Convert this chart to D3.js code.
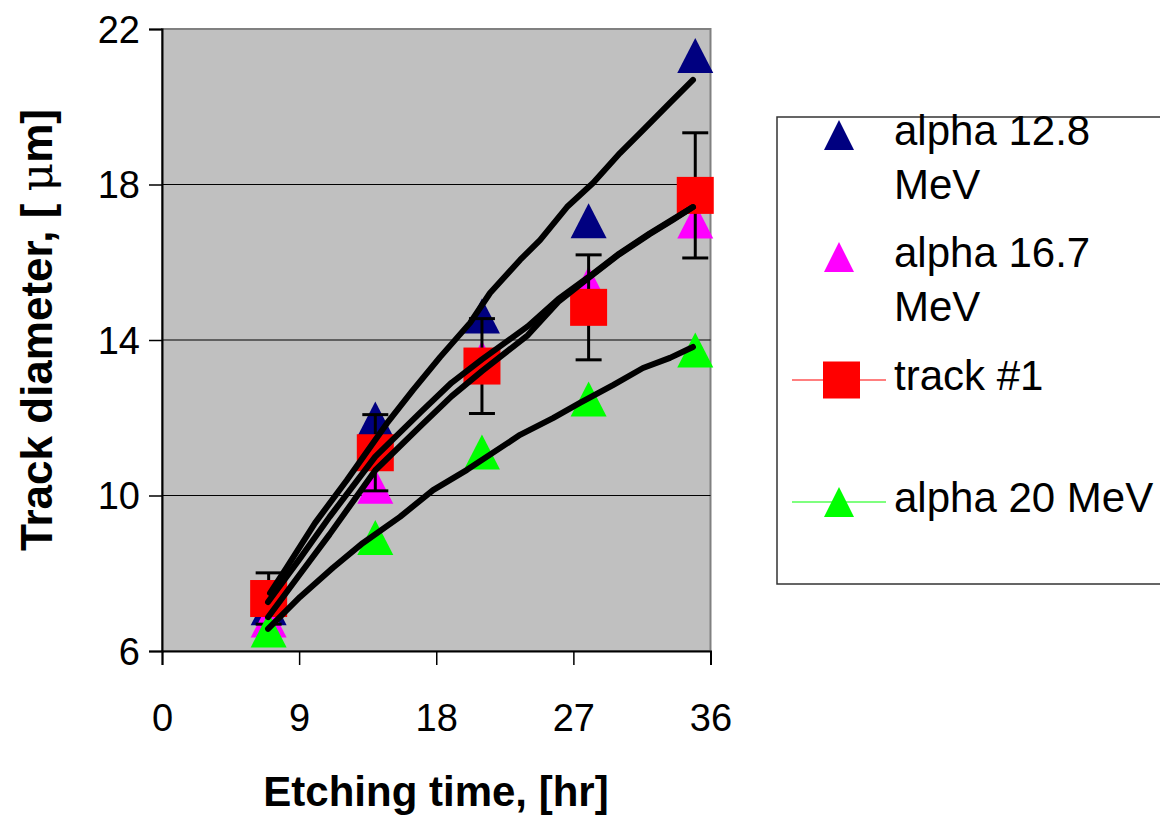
<!DOCTYPE html>
<html>
<head>
<meta charset="utf-8">
<script src="https://cdn.jsdelivr.net/npm/d3@7"></script>
<style>
  body { margin: 0; background: #fff; }
  svg { display: block; font-family: Arial, "Liberation Sans", sans-serif; }
</style>
</head>
<body>
<div id="wrapper"></div>
<script>
// etching time (hr) and measured track diameters (um)
const tHours = [7, 14, 21, 28, 35];
const alpha128 = [7.11, 11.97, 14.62, 17.07, 21.32];
const alpha167 = [6.80, 10.24, 13.54, 15.45, 17.06];
const track1 = [7.35, 11.10, 13.33, 14.84, 17.72];
const track1Err = [0.66, 0.98, 1.22, 1.35, 1.61];
const alpha20 = [6.54, 8.92, 11.12, 12.48, 13.74];

// hand drawn fit curves as [t, d]
const fitA = [[7.09, 7.49], [8.2, 8.16], [10.04, 9.29], [12.14, 10.4], [14.77, 11.86], [16.47, 12.71], [18.25, 13.56],
  [20.22, 14.44], [21.53, 15.21], [23.5, 16.06], [24.81, 16.57], [26.58, 17.42], [28.29, 18.04], [30.06, 18.81],
  [31.57, 19.4], [33.34, 20.1], [34.85, 20.69]];
const fitB = [[6.96, 7.26], [9, 8.35], [11, 9.45], [14, 11.0], [17, 12.15], [19, 12.9], [21, 13.5], [24, 14.35],
  [26, 15.05], [28, 15.62], [30, 16.22], [32, 16.74], [33.5, 17.1], [34.85, 17.42]];
const fitC = [[6.96, 6.87], [9, 7.95], [11, 9.0], [14, 10.65], [17, 11.8], [19, 12.55], [21, 13.2], [24, 14.12],
  [26, 14.98], [28, 15.6], [30, 16.2], [32, 16.72], [33.5, 17.08], [34.85, 17.42]];
const fitD = [[6.96, 6.57], [9.06, 7.39], [11.22, 8.14], [13.19, 8.78], [15.62, 9.45], [17.79, 10.14], [20.02, 10.66],
  [23.5, 11.56], [25.66, 11.99], [27.43, 12.38], [29.6, 12.84], [31.57, 13.28], [33.34, 13.54], [34.85, 13.82]];

const xTicks = [0, 9, 18, 27, 36];
const yTicks = [6, 10, 14, 18, 22];

const legendItems = [
  { lines: ["alpha 12.8", "MeV"], color: "#000080", shape: "tri", line: false },
  { lines: ["alpha 16.7", "MeV"], color: "#FF00FF", shape: "tri", line: false },
  { lines: ["track #1"], color: "#FF0000", shape: "sq", line: true },
  { lines: ["alpha 20 MeV"], color: "#00FF00", shape: "tri", line: true }
];

const width = 1160, height = 817;
const plot = { left: 162, right: 710.5, top: 29, bottom: 651 };

const svg = d3.select("#wrapper").append("svg")
  .attr("width", width)
  .attr("height", height);

const x = d3.scaleLinear().domain([0, 36]).range([plot.left, plot.right]);
const y = d3.scaleLinear().domain([6, 22]).range([plot.bottom, plot.top]);

// plot background
svg.append("rect")
  .attr("x", plot.left).attr("y", plot.top)
  .attr("width", plot.right - plot.left).attr("height", plot.bottom - plot.top)
  .attr("fill", "#C0C0C0")
  .attr("stroke", "#808080")
  .attr("stroke-width", 2);

// gridlines
svg.append("g").selectAll("line")
  .data(yTicks.filter(d => d > 6 && d < 22))
  .enter().append("line")
  .attr("x1", plot.left).attr("x2", plot.right)
  .attr("y1", d => y(d)).attr("y2", d => y(d))
  .attr("stroke", "#000").attr("stroke-width", 1.2);

// axes
const xAxis = svg.append("g")
  .attr("transform", `translate(0,${plot.bottom})`)
  .call(d3.axisBottom(x).tickValues(xTicks).tickSize(14).tickPadding(39));
const yAxis = svg.append("g")
  .attr("transform", `translate(${plot.left},0)`)
  .call(d3.axisLeft(y).tickValues(yTicks).tickSize(13).tickPadding(9));

[xAxis, yAxis].forEach(a => {
  a.select(".domain").attr("stroke", "#000").attr("stroke-width", 2);
  a.selectAll(".tick line").attr("stroke", "#000").attr("stroke-width", 1.5);
  a.selectAll(".tick text").attr("fill", "#000").style("font-size", "38px")
    .style("font-family", "Arial, 'Liberation Sans', sans-serif");
});
yAxis.selectAll(".tick text").attr("dy", "0.35em");

// axis titles
svg.append("text")
  .attr("x", 436).attr("y", 806)
  .attr("text-anchor", "middle")
  .style("font-size", "42px").style("font-weight", "bold")
  .text("Etching time, [hr]");
const yTitle = svg.append("text")
  .attr("transform", "translate(52,330) rotate(-90)")
  .attr("text-anchor", "middle")
  .style("font-size", "44px").style("font-weight", "bold");
yTitle.append("tspan").text("Track diameter, [  ");
yTitle.append("tspan").style("font-weight", "normal").style("font-family", "'DejaVu Serif', serif").text("μ");
yTitle.append("tspan").text("m]");

function triPath(w, h) {
  return `M0,${-h / 2}L${w / 2},${h / 2}L${-w / 2},${h / 2}Z`;
}

function drawTriangles(values, color) {
  svg.append("g").selectAll("path")
    .data(values)
    .enter().append("path")
    .attr("d", triPath(36, 35))
    .attr("fill", color)
    .attr("transform", (d, i) => `translate(${x(tHours[i])},${y(d)})`);
}

drawTriangles(alpha128, "#000080");
drawTriangles(alpha167, "#FF00FF");

// error bars for track #1
const errG = svg.append("g").attr("stroke", "#000").attr("stroke-width", 3);
track1.forEach((d, i) => {
  const cx = x(tHours[i]);
  errG.append("line").attr("x1", cx).attr("x2", cx)
    .attr("y1", y(d - track1Err[i])).attr("y2", y(d + track1Err[i]));
  [d - track1Err[i], d + track1Err[i]].forEach(v => {
    errG.append("line").attr("x1", cx - 13).attr("x2", cx + 13)
      .attr("y1", y(v)).attr("y2", y(v));
  });
});

svg.append("g").selectAll("rect")
  .data(track1)
  .enter().append("rect")
  .attr("x", (d, i) => x(tHours[i]) - 18.5)
  .attr("y", d => y(d) - 18.5)
  .attr("width", 37).attr("height", 37)
  .attr("fill", "#FF0000");

drawTriangles(alpha20, "#00FF00");

// fit curves
const lineGen = d3.line()
  .x(d => x(d[0]))
  .y(d => y(d[1]))
  .curve(d3.curveLinear);

svg.append("g").selectAll("path")
  .data([fitA, fitB, fitC, fitD])
  .enter().append("path")
  .attr("d", lineGen)
  .attr("fill", "none")
  .attr("stroke", "#000")
  .attr("stroke-width", 6)
  .attr("stroke-linecap", "round")
  .attr("stroke-linejoin", "round");

// legend
const legend = svg.append("g");
legend.append("rect")
  .attr("x", 777).attr("y", 117)
  .attr("width", 420).attr("height", 467)
  .attr("fill", "#fff")
  .attr("stroke", "#333").attr("stroke-width", 1.5);

const legendY = [135, 257, 380, 502];
legendItems.forEach((item, i) => {
  const cy = legendY[i];
  const g = legend.append("g");
  if (item.line) {
    g.append("line").attr("x1", 792).attr("x2", 886)
      .attr("y1", cy).attr("y2", cy)
      .attr("stroke", item.color).attr("stroke-width", 1.2);
  }
  if (item.shape === "tri") {
    g.append("path").attr("d", triPath(30, 30))
      .attr("transform", `translate(839,${cy})`)
      .attr("fill", item.color);
  } else {
    g.append("rect").attr("x", 823).attr("y", cy - 18.5)
      .attr("width", 37).attr("height", 37)
      .attr("fill", item.color);
  }
  item.lines.forEach((t, j) => {
    g.append("text")
      .attr("x", 894).attr("y", cy + 10 + j * 54)
      .style("font-size", "42px")
      .text(t);
  });
});
</script>
</body>
</html>
